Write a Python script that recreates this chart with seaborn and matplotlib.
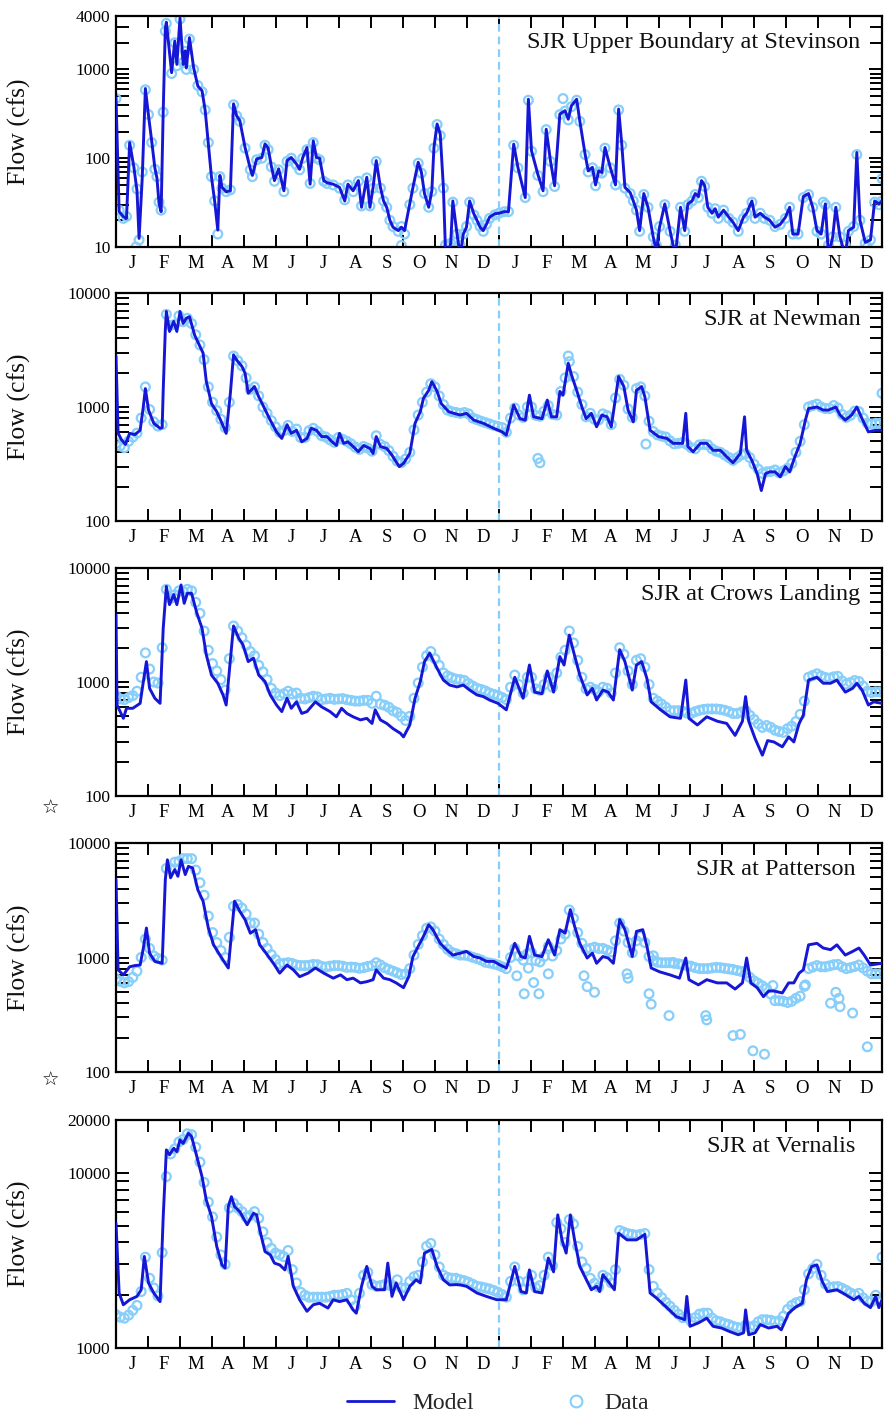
import numpy as np
import pandas as pd
import matplotlib
matplotlib.use("Agg")
import matplotlib.pyplot as plt
from matplotlib.ticker import FixedLocator, FixedFormatter, NullFormatter, LogLocator
from matplotlib.lines import Line2D
import seaborn as sns

sns.set_theme(style="ticks")
plt.rcParams["font.family"] = ["Liberation Serif", "DejaVu Sans"]

MODEL_COLOR = "#1616d6"
DATA_COLOR = "#87cefa"

N_DAYS = 730
month_letters = list("JFMAMJJASOND") * 2
# observations for the lower stations are plotted every fourth day
obs_day = list(range(0, N_DAYS, 4))

# ---------------- SJR Upper Boundary at Stevinson ----------------
stev_day = [0, 3, 7, 10, 13, 17, 20, 22, 25, 28,
            31, 34, 37, 39, 41, 43, 45, 47, 48, 53,
            56, 58, 61, 64, 66, 67, 70, 74, 78, 82,
            85, 88, 91, 94, 97, 99, 101, 105, 109, 112,
            115, 118, 123, 128, 130, 134, 139, 142, 145, 148,
            151, 155, 160, 163, 167, 172, 175, 178, 182, 185,
            188, 191, 194, 198, 201, 207, 213, 218, 221, 226,
            231, 234, 239, 242, 245, 248, 252, 255, 258, 261,
            264, 269, 272, 275, 280, 283, 288, 291, 294, 298,
            301, 303, 306, 309, 312, 314, 317, 319, 321, 325,
            328, 331, 334, 337, 341, 344, 347, 350, 353, 356,
            361, 365, 370, 374, 379, 383, 390, 393, 396, 402,
            407, 410, 414, 418, 423, 428, 431, 434, 439, 442,
            447, 450, 454, 457, 460, 463, 466, 471, 476, 479,
            482, 485, 490, 493, 496, 499, 503, 507, 512, 515,
            518, 523, 528, 533, 538, 542, 545, 549, 552, 555,
            558, 561, 564, 568, 571, 574, 579, 584, 588, 593,
            598, 601, 606, 609, 614, 618, 623, 628, 633, 638,
            642, 645, 650, 655, 660, 664, 668, 672, 676, 679,
            683, 686, 690, 695, 698, 703, 706, 709, 714, 719,
            723, 727, 730]
stev_model = [480, 25, 22, 21, 150, 80, 43, 12.5, 60, 610,
              300, 157, 78, 60, 31, 25, 344, 2900, 3400, 920,
              2090, 1140, 3800, 1140, 1620, 1040, 2280, 1040, 650, 575,
              344, 145, 61, 33, 15.5, 64, 47, 42, 43, 410,
              300, 265, 132, 76, 64, 98, 102, 145, 130, 82,
              56, 76, 43, 94, 102, 86, 75, 102, 132, 51,
              157, 102, 100, 56, 53, 51, 47, 33, 51, 43,
              56, 28, 61, 28, 47, 94, 47, 33, 28, 20,
              16.7, 15.3, 16.7, 15.3, 30.6, 47, 90, 70, 40, 28,
              43, 132, 243, 187, 47, 9, 9, 11, 33, 14,
              8, 14, 16.7, 33, 23.7, 20, 16.7, 15.3, 18, 21.7,
              23.7, 24, 25, 25, 144, 79, 36, 462, 121, 66,
              43, 212, 94, 49, 315, 343, 275, 390, 462, 263,
              112, 72, 79, 50, 72, 69, 132, 79, 50, 358,
              144, 47, 41, 33, 26, 15.3, 40, 28, 12.9, 9,
              16.7, 30.6, 15.3, 8, 28, 15.3, 30.6, 33, 40, 37,
              56, 49, 28, 24, 27, 21.7, 26, 21.7, 19, 15.3,
              21.7, 24, 33, 21.7, 24, 21.7, 20, 16.7, 18, 21.7,
              28, 14, 14, 37, 40, 28, 15.3, 14, 30.6, 8,
              12.9, 28, 12.9, 8, 15.3, 16.7, 116, 20, 11.3, 12,
              33, 30.6, 33]
stev_data = [470, 26, 21, 22, 140, 78, 45, 12, 70, 590,
             310, 150, 75, 62, 32, 26, 330, 2700, 3300, 900,
             2000, 1100, 3700, 1200, 1600, 1000, 2200, 1000, 660, 560,
             350, 150, 62, 33, 14, 62, 46, 42, 44, 400,
             300, 260, 130, 74, 62, 96, 100, 140, 125, 80,
             55, 74, 42, 92, 100, 84, 74, 100, 125, 52,
             150, 100, 96, 55, 52, 50, 46, 34, 50, 42,
             55, 29, 60, 29, 46, 92, 46, 33, 28, 20,
             17, 15, 17, 14, 30, 46, 88, 68, 40, 28,
             42, 130, 240, 180, 46, 10.5, 10.5, 11, 32, 14,
             10.5, 14, 17, 32, 23, 20, 17, 15, 18, 21,
             23, 24, 25, 25, 140, 78, 36, 450, 120, 64,
             42, 210, 92, 48, 310, 340, 270, 380, 450, 260,
             110, 70, 78, 49, 70, 68, 130, 78, 50, 350,
             140, 46, 40, 33, 26, 15, 39, 28, 13, 10.5,
             17, 30, 15, 10.5, 28, 15, 30, 33, 39, 36,
             55, 48, 28, 24, 27, 21, 26, 21, 19, 15,
             21, 24, 32, 21, 24, 21, 20, 17, 18, 21,
             28, 14, 14, 36, 39, 28, 15, 14, 30, 10.5,
             13, 28, 13, 10.5, 15, 17, 110, 20, 11, 12,
             32, 30, 33]
stev_extra_day = [19, 272, 426, 674, 716, 730]
stev_extra = [10, 10.4, 470, 32, 10, 59]

# ---------------- SJR at Newman ----------------
newm_day = [0, 2, 5, 9, 13, 18, 23, 26, 28, 31,
            36, 42, 44, 45, 47, 48, 51, 55, 58, 61,
            64, 67, 70, 75, 80, 83, 86, 91, 96, 101,
            105, 109, 112, 115, 120, 123, 126, 129, 132, 136,
            140, 147, 153, 158, 163, 167, 172, 177, 182, 186,
            191, 196, 201, 206, 210, 213, 217, 221, 226, 231,
            236, 242, 245, 248, 252, 258, 263, 267, 270, 274,
            280, 285, 290, 293, 298, 301, 306, 310, 317, 322,
            328, 334, 341, 350, 360, 368, 372, 379, 385, 390,
            394, 398, 406, 411, 415, 420, 423, 426, 431, 434,
            439, 444, 448, 453, 458, 463, 468, 472, 479, 484,
            488, 493, 496, 501, 504, 509, 517, 525, 531, 540,
            543, 545, 550, 557, 563, 569, 576, 582, 588, 595,
            599, 601, 606, 611, 615, 619, 623, 628, 633, 638,
            642, 647, 652, 657, 660, 668, 674, 679, 686, 690,
            695, 701, 706, 711, 717, 724, 730]
newm_model = [2800, 590, 520, 470, 587, 572, 625, 1000, 1450, 940,
              720, 650, 660, 1410, 4760, 6890, 4600, 5630, 4600, 6890,
              5400, 6000, 6200, 4260, 3400, 2970, 1690, 1070, 910, 720,
              587, 1320, 2870, 2580, 2270, 1980, 1320, 1410, 1510, 1230,
              1040, 767, 605, 530, 700, 587, 625, 495, 530, 650,
              625, 550, 550, 495, 460, 587, 480, 495, 450, 405,
              460, 433, 391, 550, 450, 433, 378, 330, 300, 320,
              391, 720, 910, 1190, 1400, 1670, 1370, 1070, 910, 880,
              850, 880, 767, 720, 650, 605, 567, 1040, 790, 767,
              1270, 820, 790, 1150, 820, 820, 1370, 1270, 2420, 1920,
              1400, 1000, 790, 880, 670, 850, 820, 670, 1850, 1510,
              940, 740, 1400, 1510, 1230, 625, 550, 530, 480, 480,
              880, 450, 405, 480, 480, 417, 417, 366, 324, 391,
              820, 417, 340, 260, 185, 260, 270, 270, 244, 300,
              270, 366, 480, 767, 970, 1000, 940, 940, 1000, 850,
              767, 850, 1000, 790, 605, 625, 625]
newm_data = [480, 455, 440, 500, 545, 590, 800, 1500, 950, 740,
             680, 700, 6500, 5200, 5300, 6300, 5600, 6000, 5400, 4300,
             3500, 2600, 1500, 1100, 930, 780, 660, 1100, 2800, 2550,
             2300, 1800, 1430, 1500, 1250, 1000, 880, 760, 670, 600,
             620, 690, 610, 640, 540, 540, 620, 650, 610, 560,
             545, 515, 490, 540, 520, 500, 475, 445, 425, 450,
             435, 410, 560, 470, 450, 415, 370, 335, 325, 350,
             400, 630, 850, 1100, 1350, 1600, 1500, 1250, 1050, 940,
             910, 895, 880, 895, 870, 800, 775, 750, 730, 710,
             690, 675, 660, 600, 800, 980, 850, 810, 1000, 1000,
             845, 830, 920, 1030, 860, 850, 1370, 1800, 2500, 1850,
             1350, 1050, 820, 880, 780, 770, 870, 840, 700, 1200,
             1750, 1550, 960, 810, 1450, 1500, 1250, 750, 610, 570,
             555, 545, 505, 475, 480, 490, 470, 440, 430, 465,
             470, 465, 430, 410, 400, 380, 360, 340, 360, 380,
             390, 360, 315, 285, 262, 270, 272, 280, 265, 275,
             290, 320, 400, 500, 700, 1000, 1030, 1060, 1000, 970,
             970, 1030, 980, 860, 810, 845, 920, 910, 800, 720,
             710, 720, 720]
newm_extra_day = [402, 404, 431, 505, 730]
newm_extra = [354, 324, 2800, 473, 1320]

# ---------------- SJR at Crows Landing ----------------
crow_day = [0, 1, 7, 10, 16, 23, 26, 29, 32, 37,
            42, 45, 48, 51, 55, 58, 62, 65, 68, 72,
            77, 82, 86, 91, 97, 102, 105, 112, 117, 121,
            126, 131, 136, 142, 147, 153, 158, 163, 167, 172,
            177, 182, 190, 196, 204, 210, 215, 220, 226, 233,
            239, 244, 247, 252, 258, 264, 271, 274, 280, 285,
            290, 294, 299, 306, 312, 318, 325, 331, 337, 344,
            350, 356, 364, 372, 380, 388, 394, 399, 406, 411,
            417, 423, 427, 432, 436, 442, 449, 454, 458, 464,
            469, 474, 480, 485, 492, 496, 501, 506, 510, 519,
            528, 538, 543, 546, 554, 563, 573, 582, 590, 597,
            600, 603, 609, 616, 621, 627, 635, 641, 646, 651,
            655, 660, 668, 674, 681, 687, 695, 702, 706, 711,
            717, 722, 730]
crow_model = [3880, 628, 480, 588, 588, 650, 1000, 1510, 880, 720,
              650, 2960, 6890, 4770, 5850, 4770, 7100, 4900, 6000, 6000,
              4040, 2960, 1740, 1150, 975, 770, 628, 3100, 2420, 2120,
              1510, 1620, 1150, 1010, 770, 628, 550, 720, 588, 670,
              530, 550, 670, 605, 550, 495, 588, 530, 495, 465,
              480, 433, 570, 465, 433, 390, 355, 330, 420, 720,
              1010, 1510, 1790, 1320, 1040, 940, 905, 940, 850, 770,
              745, 695, 650, 570, 1100, 720, 1410, 815, 790, 1250,
              815, 1670, 1410, 2580, 1850, 1150, 770, 880, 695, 850,
              815, 695, 1920, 1510, 850, 1410, 1510, 1070, 670, 570,
              495, 480, 1040, 480, 420, 495, 453, 433, 340, 453,
              745, 453, 320, 228, 306, 298, 270, 330, 298, 433,
              510, 1040, 1100, 975, 975, 1040, 815, 880, 975, 850,
              628, 670, 650]
crow_data = [760, 710, 700, 730, 760, 830, 1100, 1800, 1300, 1000,
             980, 2000, 6500, 5400, 5800, 6300, 6200, 6500, 6300, 5000,
             4000, 2800, 1900, 1450, 1250, 1050, 850, 1600, 3100, 2800,
             2450, 2100, 1850, 1700, 1400, 1230, 1050, 880, 800, 760,
             790, 830, 785, 800, 720, 710, 730, 750, 740, 700,
             710, 720, 705, 710, 715, 700, 690, 680, 680, 690,
             690, 650, 750, 640, 625, 600, 560, 540, 500, 460,
             500, 720, 980, 1350, 1700, 1850, 1600, 1400, 1200, 1130,
             1090, 1060, 1050, 1030, 970, 920, 880, 860, 835, 800,
             780, 760, 730, 700, 900, 1150, 950, 800, 1100, 1100,
             870, 845, 950, 1100, 900, 1200, 1650, 1900, 2800, 2200,
             1550, 1100, 870, 900, 860, 820, 900, 880, 800, 1200,
             2000, 1750, 1250, 950, 1550, 1600, 1350, 950, 720, 680,
             640, 600, 560, 560, 560, 555, 535, 530, 550, 565,
             575, 580, 580, 580, 575, 565, 550, 530, 530, 545,
             560, 510, 470, 430, 400, 415, 400, 378, 368, 362,
             390, 410, 450, 520, 680, 1100, 1140, 1180, 1130, 1095,
             1080, 1110, 1120, 1020, 960, 990, 1030, 1010, 920, 830,
             810, 820, 820]

# ---------------- SJR at Patterson ----------------
patt_day = [0, 2, 7, 13, 18, 23, 26, 29, 32, 37,
            44, 47, 49, 52, 56, 59, 62, 66, 69, 73,
            78, 83, 88, 93, 99, 104, 107, 113, 118, 123,
            128, 133, 137, 143, 150, 156, 163, 169, 175, 183,
            190, 198, 207, 214, 220, 226, 233, 239, 245, 248,
            255, 261, 267, 274, 279, 283, 288, 293, 298, 302,
            309, 315, 321, 328, 334, 341, 347, 353, 360, 366,
            372, 380, 386, 390, 394, 399, 406, 412, 418, 423,
            428, 433, 437, 442, 449, 454, 458, 464, 469, 474,
            480, 485, 492, 496, 502, 506, 510, 518, 528, 537,
            543, 546, 555, 563, 573, 582, 590, 597, 601, 605,
            611, 617, 622, 627, 635, 641, 646, 651, 655, 660,
            668, 674, 681, 687, 695, 702, 708, 713, 719, 730]
patt_model = [4790, 780, 705, 830, 850, 860, 1200, 1810, 1090, 925,
              890, 4790, 7130, 4970, 5860, 5120, 7130, 5300, 6250, 6050,
              3900, 3100, 1810, 1290, 1050, 890, 810, 3100, 2530, 2140,
              1630, 1750, 1290, 1090, 890, 730, 860, 780, 680, 730,
              810, 730, 660, 705, 640, 660, 600, 615, 640, 780,
              660, 640, 600, 545, 680, 1020, 1250, 1530, 1930, 1750,
              1330, 1170, 1050, 1090, 1130, 1020, 990, 925, 925, 860,
              810, 1330, 1020, 990, 1530, 1050, 1020, 1430, 1050, 1750,
              1630, 2620, 1880, 1330, 990, 1090, 890, 1020, 990, 890,
              2140, 1750, 1020, 1690, 1750, 1250, 810, 750, 705, 660,
              990, 640, 577, 640, 600, 600, 530, 600, 990, 600,
              545, 455, 510, 510, 490, 600, 600, 730, 780, 1290,
              1330, 1210, 1170, 1290, 1050, 1130, 1210, 1050, 860, 890]
patt_data = [650, 620, 600, 615, 670, 760, 1000, 1450, 1200, 1030,
             980, 950, 6000, 6000, 6800, 6900, 7300, 7300, 7300, 5800,
             4500, 3500, 2300, 1650, 1350, 1150, 1000, 1500, 2800, 2900,
             2700, 2400, 2000, 2000, 1600, 1350, 1200, 1060, 960, 880,
             890, 900, 885, 860, 850, 850, 855, 870, 865, 835,
             825, 840, 850, 850, 840, 820, 825, 820, 805, 815,
             835, 850, 900, 860, 815, 785, 760, 735, 710, 720,
             800, 1050, 1300, 1550, 1800, 1850, 1700, 1450, 1300, 1180,
             1110, 1080, 1050, 1050, 1035, 1005, 980, 950, 910, 895,
             880, 860, 830, 800, 1000, 1200, 1030, 950, 1080, 1100,
             940, 915, 1020, 1250, 1030, 1150, 1450, 1600, 2600, 2200,
             1650, 1330, 1180, 1200, 1230, 1200, 1200, 1160, 1120, 1400,
             2000, 1700, 1350, 1100, 1400, 1530, 1350, 1020, 940, 910,
             900, 900, 900, 890, 880, 865, 850, 840, 815, 800,
             800, 800, 810, 820, 815, 805, 795, 785, 770, 755,
             730, 670, 625, 595, 565, 535, 480, 420, 420, 415,
             405, 415, 440, 460, 560, 800, 825, 850, 830, 830,
             845, 865, 870, 830, 800, 815, 835, 860, 810, 760,
             720, 720, 720]
patt_extra_day = [382, 389, 393, 398, 403, 412, 446, 449, 456, 487,
                  488, 508, 510, 512, 527, 531, 562, 563, 588, 595,
                  607, 618, 626, 657, 681, 686, 689, 690, 702, 716]
patt_extra = [692, 482, 808, 604, 482, 720, 692, 557, 497, 720,
              660, 482, 391, 1035, 311, 904, 311, 285, 208, 213,
              153, 143, 569, 576, 399, 497, 440, 372, 327, 166]

# ---------------- SJR at Vernalis ----------------
vern_day = [0, 3, 7, 13, 20, 24, 27, 31, 36, 42,
            45, 48, 51, 55, 58, 61, 64, 69, 72, 77,
            82, 86, 91, 96, 101, 104, 107, 110, 113, 118,
            125, 131, 134, 137, 142, 147, 151, 156, 161, 164,
            169, 175, 182, 188, 194, 202, 207, 213, 220, 226,
            229, 234, 239, 244, 248, 256, 259, 263, 267, 274,
            280, 286, 290, 294, 301, 306, 312, 318, 324, 328,
            334, 344, 353, 363, 372, 380, 386, 391, 394, 399,
            406, 412, 417, 421, 425, 429, 433, 437, 442, 449,
            453, 458, 461, 464, 469, 475, 479, 487, 496, 504,
            509, 515, 525, 534, 542, 544, 547, 555, 563, 569,
            577, 585, 593, 598, 600, 603, 609, 614, 622, 630,
            634, 641, 647, 654, 658, 663, 668, 673, 678, 687,
            695, 703, 708, 713, 719, 724, 727, 730]
vern_model = [5150, 2060, 1765, 1885, 1970, 2150, 3330, 2350, 2060, 1840,
              5630, 13500, 12650, 13800, 13200, 15400, 14700, 16800, 16100, 12400,
              9480, 7000, 5630, 3800, 2980, 2860, 6410, 7300, 6410, 5990,
              5050, 5870, 5750, 4720, 3550, 3400, 3050, 2980, 2790, 3330,
              2250, 1885, 1620, 1765, 1800, 1690, 1885, 1840, 1885, 1650,
              1580, 2250, 2920, 2250, 2150, 2150, 3050, 1970, 2350, 1885,
              2250, 2450, 2350, 3480, 3650, 2920, 2450, 2290, 2300, 2290,
              2250, 2060, 1970, 1885, 1885, 2920, 2100, 2060, 2790, 2100,
              2060, 3260, 2720, 5750, 4140, 3480, 5750, 4140, 2920, 2400,
              2150, 2250, 2100, 2620, 2400, 2150, 4520, 4140, 4140, 4450,
              2060, 1930, 1700, 1510, 1450, 1970, 1330, 1390, 1480, 1330,
              1300, 1240, 1190, 1220, 1650, 1190, 1220, 1360, 1300, 1330,
              1270, 1580, 1700, 1800, 2450, 2920, 2980, 2400, 2100, 2150,
              2020, 1885, 1970, 1800, 1700, 1970, 1700, 1885]
vern_data = [1550, 1500, 1480, 1540, 1640, 1750, 2100, 3300, 2500, 2200,
             1980, 3500, 9500, 12800, 13700, 15000, 15500, 16700, 16500, 14000,
             11500, 8800, 6800, 5600, 4300, 3400, 3000, 6300, 6700, 6300,
             6000, 5600, 5700, 6000, 5500, 4600, 4000, 3700, 3480, 3400,
             3320, 3600, 2800, 2350, 2080, 2000, 1950, 1950, 1950, 1950,
             1950, 1970, 2000, 2000, 2020, 2050, 1880, 1730, 2050, 2600,
             2700, 2300, 2250, 2270, 2300, 2280, 2270, 2450, 2200, 2200,
             2400, 2550, 2600, 3100, 3800, 3950, 3400, 2900, 2600, 2530,
             2500, 2500, 2450, 2420, 2370, 2310, 2250, 2230, 2200, 2170,
             2130, 2080, 2020, 1950, 2400, 2900, 2400, 2150, 2400, 2600,
             2210, 2270, 2600, 3300, 2950, 5200, 4800, 4000, 5400, 5100,
             3800, 3100, 2850, 2500, 2340, 2230, 2600, 2520, 2350, 2800,
             4680, 4580, 4490, 4450, 4400, 4450, 4500, 2800, 2250, 2060,
             1940, 1820, 1730, 1640, 1560, 1490, 1500, 1420, 1490, 1560,
             1580, 1580, 1480, 1430, 1410, 1380, 1360, 1330, 1310, 1300,
             1350, 1310, 1340, 1410, 1450, 1450, 1440, 1410, 1430, 1520,
             1660, 1750, 1810, 1840, 2150, 2650, 2840, 3000, 2600, 2320,
             2210, 2235, 2240, 2190, 2130, 2060, 2010, 2050, 1930, 1850,
             1840, 2000, 1850]
vern_extra_day = [730]
vern_extra = [3300]

panels = [
    dict(title="SJR Upper Boundary at Stevinson", day=stev_day, model=stev_model,
         data_day=stev_day, data=stev_data, xday=stev_extra_day, xval=stev_extra,
         ylim=(10, 4000), yticks=[10, 100, 1000, 4000], box=(16, 247), tx=0.972),
    dict(title="SJR at Newman", day=newm_day, model=newm_model,
         data_day=obs_day, data=newm_data, xday=newm_extra_day, xval=newm_extra,
         ylim=(100, 10000), yticks=[100, 1000, 10000], box=(293, 521), tx=0.972),
    dict(title="SJR at Crows Landing", day=crow_day, model=crow_model,
         data_day=obs_day, data=crow_data, xday=[], xval=[],
         ylim=(100, 10000), yticks=[100, 1000, 10000], box=(568, 796), tx=0.972),
    dict(title="SJR at Patterson", day=patt_day, model=patt_model,
         data_day=obs_day, data=patt_data, xday=patt_extra_day, xval=patt_extra,
         ylim=(100, 10000), yticks=[100, 1000, 10000], box=(843, 1072), tx=0.965),
    dict(title="SJR at Vernalis", day=vern_day, model=vern_model,
         data_day=obs_day, data=vern_data, xday=vern_extra_day, xval=vern_extra,
         ylim=(1000, 20000), yticks=[1000, 10000, 20000], box=(1120, 1348), tx=0.965),
]

W, H = 891, 1413
fig = plt.figure(figsize=(W / 100, H / 100), dpi=100)

month_edges = np.arange(1, 24) * N_DAYS / 24
month_mids = (np.arange(24) + 0.5) * N_DAYS / 24

for p in panels:
    assert len(p["day"]) == len(p["model"]), p["title"]
    assert len(p["data_day"]) == len(p["data"]), p["title"]
    top, bot = p["box"]
    ax = fig.add_axes([116 / W, 1 - bot / H, 766 / W, (bot - top) / H])
    ax.set_yscale("log")

    ax.axvline(365, color=DATA_COLOR, lw=1.6, ls=(0, (3.5, 2.2)), zorder=1)

    obs = pd.DataFrame({"day": p["data_day"], "flow": p["data"]})
    if p["xday"]:
        obs = pd.concat([obs, pd.DataFrame({"day": p["xday"], "flow": p["xval"]})],
                        ignore_index=True)
    sns.scatterplot(data=obs, x="day", y="flow", ax=ax, marker="o", s=40,
                    color="none", edgecolor=DATA_COLOR, linewidth=1.6,
                    zorder=2, legend=False)

    sim = pd.DataFrame({"day": p["day"], "flow": p["model"]})
    sns.lineplot(data=sim, x="day", y="flow", ax=ax, color=MODEL_COLOR,
                 lw=2.1, estimator=None, sort=False, zorder=3, legend=False)

    ax.set_xlim(0, N_DAYS)
    ax.set_ylim(*p["ylim"])
    ax.set_xlabel("")
    ax.set_ylabel("")

    ax.xaxis.set_major_locator(FixedLocator(month_edges))
    ax.xaxis.set_major_formatter(NullFormatter())
    ax.xaxis.set_minor_locator(FixedLocator(month_mids))
    ax.xaxis.set_minor_formatter(FixedFormatter(month_letters))
    ax.tick_params(axis="x", which="major", direction="in", length=8.5,
                   width=1.4, top=True, bottom=True, color="black")
    ax.tick_params(axis="x", which="minor", length=0, pad=6,
                   labelsize=13.5, top=False, labelcolor="black")

    ax.yaxis.set_major_locator(FixedLocator(p["yticks"]))
    ax.yaxis.set_major_formatter(FixedFormatter([str(v) for v in p["yticks"]]))
    ax.yaxis.set_minor_locator(LogLocator(base=10, subs=np.arange(2, 10), numticks=30))
    ax.yaxis.set_minor_formatter(NullFormatter())
    ax.tick_params(axis="y", which="both", direction="in", left=True,
                   right=True, width=1.4, color="black")
    ax.tick_params(axis="y", which="major", length=9.5, pad=4,
                   labelsize=12.5, labelcolor="black")
    ax.tick_params(axis="y", which="minor", length=9)

    for s in ax.spines.values():
        s.set_linewidth(1.6)
        s.set_color("black")

    ax.text(p["tx"], 0.885, p["title"], transform=ax.transAxes,
            ha="right", va="center", fontsize=17.5, color="#111111")

    fig.text(19 / W, 1 - (top + bot) / 2 / H, "Flow (cfs)", rotation=90,
             ha="center", va="center", fontsize=18.5, color="#111111")

for y_px in (808, 1080):
    fig.text(50 / W, 1 - y_px / H, "\u2606", family="DejaVu Sans",
             fontsize=14, ha="center", va="center", color="black")

model_handle = Line2D([], [], color=MODEL_COLOR, lw=2.0)
data_handle = Line2D([], [], ls="none", marker="o", ms=8.5, mfc="none",
                     mec=DATA_COLOR, mew=1.5)
fig.legend([model_handle], ["Model"], loc="center left",
           bbox_to_anchor=(347 / W, 1 - 1403 / H), frameon=False, fontsize=17,
           handlelength=2.0, handletextpad=0.75, borderpad=0, borderaxespad=0)
fig.legend([data_handle], ["Data"], loc="center left",
           bbox_to_anchor=(564 / W, 1 - 1403 / H), frameon=False, fontsize=17,
           handlelength=1.0, handletextpad=0.72, borderpad=0, borderaxespad=0)

fig.savefig("out.png", dpi=100)
